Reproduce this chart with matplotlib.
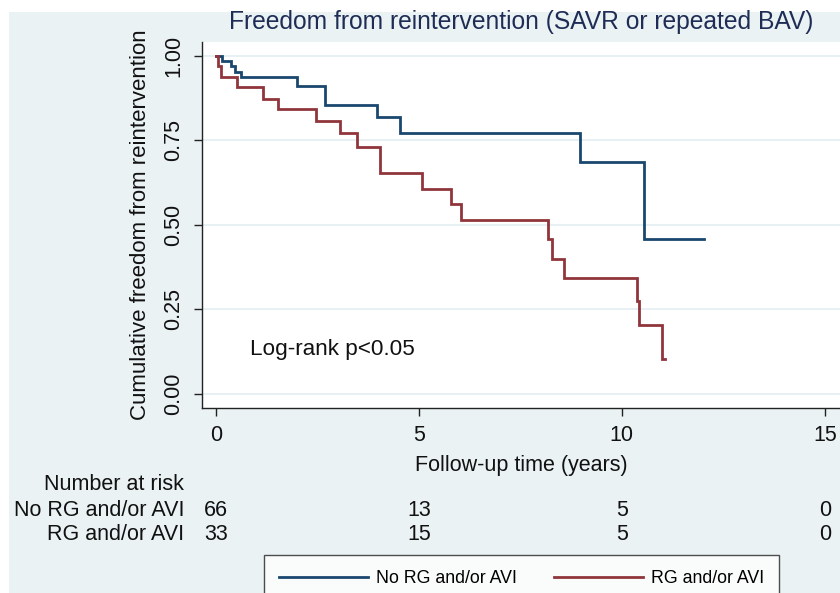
import matplotlib
matplotlib.use('Agg')
import matplotlib.pyplot as plt
import matplotlib.transforms as mtransforms
from matplotlib.patches import Rectangle

plt.rcParams['font.family'] = ['Liberation Sans', 'DejaVu Sans']

# ---- data ----
title = 'Freedom from reintervention (SAVR or repeated BAV)'
group_labels = ['No RG and/or AVI', 'RG and/or AVI']

no_rg_time = [0, 0.15, 0.37, 0.47, 0.62, 2.01, 2.68, 3.98, 4.53, 8.97, 10.55, 12.02]
no_rg_surv = [1.0, 0.985, 0.970, 0.954, 0.938, 0.912, 0.855, 0.818, 0.771, 0.687, 0.457, 0.457]

rg_time = [0, 0.06, 0.14, 0.53, 1.17, 1.53, 2.46, 3.07, 3.49, 4.04, 5.09, 5.80, 6.03,
           8.19, 8.27, 8.57, 10.38, 10.42, 11.00, 11.06]
rg_surv = [1.0, 0.969, 0.939, 0.909, 0.874, 0.842, 0.807, 0.771, 0.731, 0.652, 0.606, 0.561, 0.513,
           0.457, 0.398, 0.343, 0.275, 0.204, 0.102, 0.102]

risk_times = [0, 5, 10, 15]
risk_no_rg = [66, 13, 5, 0]
risk_rg = [33, 15, 5, 0]

x_ticks = [0, 5, 10, 15]
y_ticks = [0.0, 0.25, 0.50, 0.75, 1.00]
y_ticklabels = ['0.00', '0.25', '0.50', '0.75', '1.00']

# ---- style ----
W, H = 840, 593
BG = '#eaf2f3'
BLUE = '#1a476f'
RED = '#90353b'
TXT = '#111111'

fig = plt.figure(figsize=(W / 100, H / 100), dpi=100, facecolor='white')
fig.patches.append(Rectangle((9 / W, 0), 1 - 9 / W, 1 - 12 / H, transform=fig.transFigure,
                             facecolor=BG, edgecolor='none', zorder=-10))

ax_l, ax_r, ax_t, ax_b = 202, 840, 41.7, 408.3
ax = fig.add_axes([ax_l / W, 1 - ax_b / H, (ax_r - ax_l) / W, (ax_b - ax_t) / H])
ax.set_facecolor('white')

x0px, pxyr = 215.8, 40.6
y0px, pxunit = 393.5, 337.5
ax.set_xlim((ax_l - x0px) / pxyr, (ax_r - x0px) / pxyr)
ax.set_ylim(-(ax_b - y0px) / pxunit, (y0px - ax_t) / pxunit)

ax.step(no_rg_time, no_rg_surv, where='post', color=BLUE, lw=2.0, label=group_labels[0],
        solid_joinstyle='miter')
ax.step(rg_time, rg_surv, where='post', color=RED, lw=2.0, label=group_labels[1],
        solid_joinstyle='miter')

ax.set_xticks(x_ticks)
ax.set_xticklabels([str(t) for t in x_ticks], fontsize=15.5, color=TXT)
ax.set_yticks(y_ticks)
ax.set_yticklabels(y_ticklabels, rotation=90, va='center', fontsize=15.5, color=TXT)
ax.tick_params(axis='both', length=5.8, width=1, color='#222222')
ax.tick_params(axis='x', pad=6.5)
ax.tick_params(axis='y', pad=7)
ax.grid(axis='y', color='#e3eef0', lw=1.2)
ax.set_axisbelow(True)
for s in ['top', 'right']:
    ax.spines[s].set_visible(False)
for s in ['left', 'bottom']:
    ax.spines[s].set_color('#222222')
    ax.spines[s].set_linewidth(1.0)

ax.set_xlabel('Follow-up time (years)', fontsize=15.5, color=TXT, va='center')
ax.xaxis.set_label_coords(0.5, (ax_b - 465) / (ax_b - ax_t))
ax.set_ylabel('Cumulative freedom from reintervention', fontsize=16, color=TXT, va='center')
ax.yaxis.set_label_coords((141 - ax_l) / (ax_r - ax_l), 0.5)

ax.text((250 - x0px) / pxyr, (y0px - 350) / pxunit, 'Log-rank p<0.05', fontsize=16.2,
        color=TXT, va='center', ha='left')

fig.text(521 / W, 1 - 22 / H, title, fontsize=17.7, color='#1f2d56', ha='center', va='center')

# number at risk table
trans = mtransforms.blended_transform_factory(ax.transData, fig.transFigure)
fig.text(184 / W, 1 - 485 / H, 'Number at risk', fontsize=15.5, color=TXT, ha='right', va='center')
row_y = [510.7, 535]
for lbl, vals, yy in zip(group_labels, [risk_no_rg, risk_rg], row_y):
    fig.text(184 / W, 1 - yy / H, lbl, fontsize=15.5, color=TXT, ha='right', va='center')
    for t, v in zip(risk_times, vals):
        ax.text(t, 1 - yy / H, str(v), transform=trans, fontsize=15.5, color=TXT,
                ha='center', va='center', clip_on=False)

leg = fig.legend(loc='upper left', bbox_to_anchor=(264 / W, 1 - 555 / H), ncol=2,
                 fontsize=12.8, frameon=True, fancybox=False, handlelength=5.0,
                 handletextpad=0.45, columnspacing=2.1, borderpad=0.85, borderaxespad=0)
leg.get_frame().set_edgecolor('#222222')
leg.get_frame().set_linewidth(1.0)
leg.get_frame().set_facecolor('white')

fig.savefig('out.png', dpi=100, facecolor=fig.get_facecolor())
